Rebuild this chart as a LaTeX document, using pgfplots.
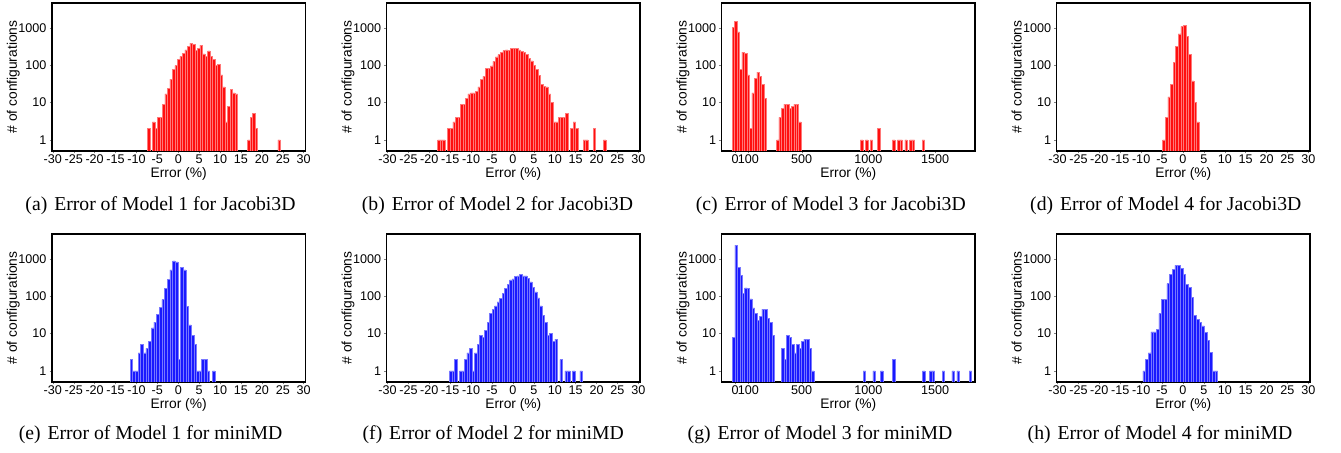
\documentclass[border=0pt]{standalone}
\usepackage{fontspec}
\setmainfont{Liberation Serif}
\newfontfamily\axfont{Liberation Sans}
\usepackage{pgfplots}
\pgfplotsset{compat=1.18}
\pgfkeys{/pgf/number format/assume math mode=true}
\definecolor{rbar}{RGB}{255,15,15}
\definecolor{redge}{RGB}{255,120,120}
\definecolor{bbar}{RGB}{25,25,255}
\definecolor{bedge}{RGB}{120,120,255}
\pgfplotsset{
  errhist/.style={
    scale only axis, width=126.67pt, height=74pt,
    ymin=0.5, ymax=4600, log origin=infty,
    ytick={1,10,100,1000}, yticklabels={1,10,100,1000},
    minor tick length=0pt,
    ybar, bar width=0.6, bar shift=0pt,
    tick align=outside, tick pos=left,
    major tick length=1.2pt,
    axis line style={line width=0.6pt},
    font=\axfont\fontsize{6.3}{7}\selectfont,
    xticklabel style={inner sep=0.6pt},
    yticklabel style={inner sep=1.4pt},
    xlabel={Error (\%)}, ylabel={\# of configurations},
    label style={font=\axfont\fontsize{6.9}{8}\selectfont},
    xlabel style={at={(axis description cs:0.5,-0.18)}, anchor=base},
    ylabel style={at={(axis description cs:-0.153,0.5)}, anchor=center},
  },
  pmaxis/.style={errhist, xmin=-30.2, xmax=30.4, xtick={-30,-25,...,30}},
  bigaxis/.style={errhist, xmin=-100, xmax=1800, xtick={0,100,500,1000,1500},
    xticklabels={0,100,500,1000,1500}, bar width=18.5},
  rb/.style={fill=rbar, draw=redge, line width=0.25pt},
  bb/.style={fill=bbar, draw=bedge, line width=0.25pt},
}
\begin{document}
\begin{tikzpicture}
\path[use as bounding box] (0,0) rectangle (670.5pt,-226.5pt);
% (a)
\begin{semilogyaxis}[pmaxis, at={(26pt,-75.5pt)}, anchor=south west]
\addplot[rb] coordinates {(-7.1,2)(-5.9,3)(-5.3,2)(-4.7,4)(-4.1,4)(-3.5,9)(-2.9,17)(-2.3,24)(-1.7,42)(-1.1,75)(-0.5,96)(0.1,139)(0.7,170)(1.3,210)(1.9,257)(2.5,316)(3.1,390)(3.7,365)(4.3,250)(4.9,280)(5.5,340)(6.1,200)(6.7,170)(7.3,240)(7.9,170)(8.5,140)(9.1,100)(9.7,105)(10.3,55)(10.9,26)(11.5,3)(12.1,8)(12.7,22)(13.3,18)(13.9,17)(16.9,1)(17.5,4)(18.1,5)(18.7,2)(24.1,1)};
\end{semilogyaxis}
% (b)
\begin{semilogyaxis}[pmaxis, at={(193.35pt,-75.5pt)}, anchor=south west]
\addplot[rb] coordinates {(-17.7,1)(-17.1,1)(-16.5,1)(-15.3,2)(-14.7,2)(-14.1,3)(-13.5,4)(-12.9,4)(-12.3,9)(-11.7,9)(-11.1,13)(-10.5,17)(-9.9,18)(-9.3,18)(-8.7,20)(-8.1,26)(-7.5,42)(-6.9,50)(-6.3,80)(-5.7,80)(-5.1,95)(-4.5,125)(-3.9,165)(-3.3,190)(-2.7,215)(-2.1,245)(-1.5,255)(-0.9,245)(-0.3,285)(0.3,285)(0.9,285)(1.5,255)(2.1,230)(2.7,220)(3.3,190)(3.9,150)(4.5,130)(5.1,100)(5.7,75)(6.3,52)(6.9,30)(7.5,27)(8.1,26)(8.7,17)(9.3,10)(9.9,3)(10.5,3)(11.1,4)(11.7,4)(12.3,4)(12.9,5)(14.1,2)(14.7,3)(15.3,2)(17.1,1)(17.7,1)(19.5,2)(21.9,1)};
\end{semilogyaxis}
% (c)
\begin{semilogyaxis}[bigaxis, at={(360.85pt,-75.5pt)}, anchor=south west]
\addplot[rb] coordinates {(-12.75,1000)(5.75,1500)(24.25,780)(42.75,78)(61.25,222)(79.75,210)(98.25,55)(116.75,2)(135.25,18)(153.75,45)(172.25,65)(190.75,50)(209.25,31)(227.75,13)(320.25,1)(338.75,4)(357.25,7)(375.75,9)(394.25,9)(412.75,7)(431.25,8)(449.75,9)(468.25,9)(486.75,3)(949.25,1)(986.25,1)(1023.25,1)(1078.75,2)(1189.75,1)(1226.75,1)(1245.25,1)(1282.25,1)(1319.25,1)(1337.75,1)(1411.75,1)};
\end{semilogyaxis}
% (d)
\begin{semilogyaxis}[pmaxis, bar width=0.62, at={(528.35pt,-75.5pt)}, anchor=south west]
\addplot[rb] coordinates {(-4.54,1)(-3.92,4)(-3.30,14)(-2.68,31)(-2.06,118)(-1.44,310)(-0.82,680)(-0.20,1090)(0.42,1150)(1.04,600)(1.66,190)(2.28,38)(2.90,10)(3.52,3)};
\end{semilogyaxis}
% (e)
\begin{semilogyaxis}[pmaxis, bar width=0.635, at={(26pt,-191pt)}, anchor=south west]
\addplot[bb] coordinates {(-11.21,2)(-10.58,1)(-9.94,1)(-9.31,3)(-8.67,5)(-8.04,3)(-7.40,4)(-6.77,6)(-6.13,14)(-5.50,20)(-4.86,32)(-4.23,50)(-3.59,80)(-2.96,160)(-2.32,280)(-1.69,500)(-1.05,880)(-0.42,830)(0.22,2)(0.85,590)(1.49,500)(2.12,52)(2.76,17)(3.39,9)(4.03,5)(4.66,1)(5.30,1)(5.93,2)(6.57,2)(7.20,1)(8.47,1)};
\end{semilogyaxis}
% (f)
\begin{semilogyaxis}[pmaxis, at={(193.35pt,-191pt)}, anchor=south west]
\addplot[bb] coordinates {(-14.9,1)(-14.3,1)(-13.7,2)(-12.5,1)(-11.9,1)(-11.3,2)(-10.7,3)(-10.1,4)(-9.5,1)(-8.9,3)(-8.3,5)(-7.7,9)(-7.1,8)(-6.5,12)(-5.9,20)(-5.3,35)(-4.7,45)(-4.1,55)(-3.5,70)(-2.9,85)(-2.3,120)(-1.7,160)(-1.1,210)(-0.5,270)(0.1,290)(0.7,330)(1.3,350)(1.9,380)(2.5,350)(3.1,350)(3.7,300)(4.3,240)(4.9,175)(5.5,130)(6.1,90)(6.7,55)(7.3,30)(7.9,20)(8.5,9)(9.1,10)(9.7,6)(10.3,7)(11.5,2)(12.7,1)(13.3,1)(14.5,1)(16.3,1)};
\end{semilogyaxis}
% (g)
\begin{semilogyaxis}[bigaxis, at={(360.85pt,-191pt)}, anchor=south west]
\addplot[bb] coordinates {(-10.75,8)(7.75,2300)(26.25,600)(44.75,360)(63.25,120)(81.75,165)(100.25,160)(118.75,84)(137.25,48)(155.75,34)(174.25,22)(192.75,29)(211.25,45)(229.75,44)(248.25,25)(266.75,20)(285.25,9)(359.25,4)(377.75,2)(396.25,9)(414.75,8)(433.25,5)(451.75,3)(470.25,5)(488.75,4)(507.25,6)(525.75,7)(544.25,7)(562.75,4)(581.25,1)(969.75,1)(1043.75,1)(1099.25,1)(1191.75,2)(1413.75,1)(1469.25,1)(1487.75,1)(1561.75,1)(1635.75,1)(1672.75,1)(1765.25,1)};
\end{semilogyaxis}
% (h)
\begin{semilogyaxis}[pmaxis, bar width=0.64, at={(528.35pt,-191pt)}, anchor=south west]
\addplot[bb] coordinates {(-9.28,1)(-8.64,2)(-8.00,3)(-7.36,11)(-6.72,11)(-6.08,13)(-5.44,34)(-4.80,83)(-4.16,83)(-3.52,215)(-2.88,380)(-2.24,520)(-1.60,660)(-0.96,660)(-0.32,550)(0.32,380)(0.96,208)(1.60,168)(2.24,92)(2.88,30)(3.52,24)(4.16,20)(4.80,16)(5.44,10.7)(6.08,6.4)(6.72,3.1)(7.36,1)(8.00,1)};
\end{semilogyaxis}
% captions
\begin{scope}[every node/.style={font=\fontsize{9.85}{12}\selectfont, anchor=base, inner sep=0pt}]
\node at (80.25pt,-105.5pt) {(a)\hspace{0.35em}Error of Model 1 for Jacobi3D};
\node at (248.75pt,-105.5pt) {(b)\hspace{0.35em}Error of Model 2 for Jacobi3D};
\node at (415.4pt,-105.5pt) {(c)\hspace{0.35em}Error of Model 3 for Jacobi3D};
\node at (582.9pt,-105.5pt) {(d)\hspace{0.35em}Error of Model 4 for Jacobi3D};
\node at (75.25pt,-220pt) {(e)\hspace{0.35em}Error of Model 1 for miniMD};
\node at (246.65pt,-220pt) {(f)\hspace{0.35em}Error of Model 2 for miniMD};
\node at (410pt,-220pt) {(g)\hspace{0.35em}Error of Model 3 for miniMD};
\node at (580pt,-220pt) {(h)\hspace{0.35em}Error of Model 4 for miniMD};
\end{scope}
\end{tikzpicture}
\end{document}
